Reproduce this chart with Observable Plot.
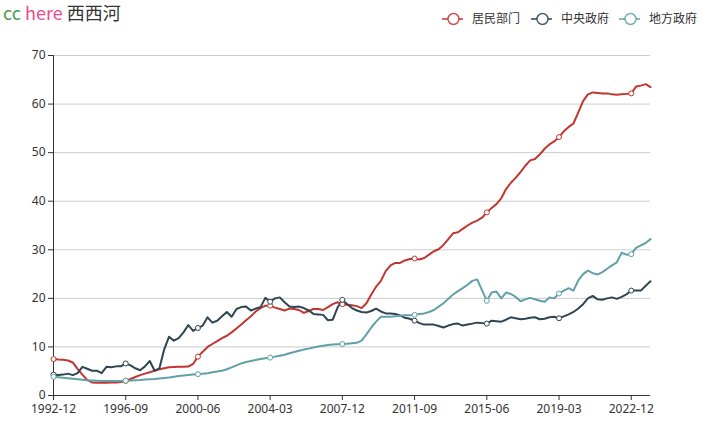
<!DOCTYPE html>
<html>
<head>
<meta charset="utf-8">
<script src="https://cdn.jsdelivr.net/npm/d3@7"></script>
<script src="https://cdn.jsdelivr.net/npm/@observablehq/plot@0.6"></script>
<style>
  html, body { margin: 0; padding: 0; background: #fff; }
  #wrap { width: 707px; height: 429px; position: relative; font-family: "Noto Sans", "Noto Sans CJK SC", sans-serif; }
  #header { height: 30px; position: relative; }
  #title { position: absolute; left: 3px; top: 0px; height: 26px; font-size: 18px; line-height: 24px; white-space: nowrap; font-family: "Noto Sans CJK SC", "Noto Sans", sans-serif; }
  #legend { position: absolute; left: 430px; top: 0; }
</style>
</head>
<body>
<div id="wrap">
  <div id="header">
    <div id="title"><span style="color:#4a9f4a">cc</span> <span style="color:#f0488f">here</span> <span style="color:#333">西西河</span></div>
    <svg id="legend" width="277" height="30"></svg>
  </div>
  <div id="chart"></div>
</div>
<script>
// Categories: quarterly from 1992-12 to 2023-12
const quarters = ["1992-12"];
for (let y = 1993; y <= 2023; y++) for (const m of ["03", "06", "09", "12"]) quarters.push(`${y}-${m}`);

const tickLabels = ["1992-12","1996-09","2000-06","2004-03","2007-12","2011-09","2015-06","2019-03","2022-12"];
const yTicks = [0,10,20,30,40,50,60,70];

const seriesNames = ["居民部门", "中央政府", "地方政府"];
const seriesColors = ["#c23531", "#2f4554", "#61a0a8"];

const household = [
  7.5,7.4,7.35,7.2,6.8,5.5,4.3,3.2,2.7,2.6,
  2.6,2.6,2.7,2.7,2.8,3.0,3.4,3.8,4.2,4.5,
  4.8,5.1,5.4,5.6,5.8,5.85,5.9,5.9,5.95,6.5,
  8.0,9.0,10.0,10.6,11.2,11.8,12.3,13.0,13.8,14.6,
  15.5,16.3,17.3,18.0,18.5,18.5,18.1,17.8,17.5,17.9,
  17.8,17.6,17.0,17.4,17.8,17.8,17.6,18.2,18.8,19.2,
  18.8,18.7,18.6,18.4,18.0,19.0,20.8,22.4,23.6,25.6,
  26.8,27.3,27.3,27.8,28.1,28.2,28.0,28.3,29.0,29.7,
  30.1,31.0,32.2,33.4,33.6,34.3,35.0,35.6,36.0,36.6,
  37.7,38.6,39.4,40.6,42.5,43.8,44.8,46.0,47.3,48.4,
  48.7,49.6,50.8,51.7,52.3,53.2,54.4,55.3,56.0,58.3,
  60.6,62.0,62.4,62.3,62.2,62.2,62.0,61.9,62.0,62.1,
  62.2,63.6,63.8,64.1,63.5
];

const central = [
  4.3,4.2,4.3,4.5,4.2,4.6,5.9,5.5,5.1,5.1,
  4.6,5.9,5.8,6.0,6.0,6.6,6.2,5.6,5.2,6.0,
  7.1,5.1,5.6,9.5,12.1,11.3,11.8,13.0,14.5,13.3,
  13.9,14.4,16.1,15.0,15.4,16.3,17.2,16.2,17.8,18.2,
  18.3,17.5,17.9,18.2,20.1,19.3,20.0,20.2,19.2,18.3,
  18.2,18.3,18.0,17.5,16.8,16.7,16.6,15.5,15.6,18.1,
  19.7,18.8,18.0,17.5,17.2,17.1,17.4,17.9,17.3,16.9,
  16.9,16.8,16.5,16.0,15.8,15.4,14.9,14.6,14.6,14.6,
  14.3,14.0,14.4,14.7,14.8,14.4,14.6,14.8,15.0,14.9,
  14.8,15.4,15.3,15.2,15.6,16.1,15.9,15.7,15.8,16.0,
  16.1,15.7,15.8,16.1,16.2,15.9,16.3,16.7,17.2,17.9,
  18.8,20.0,20.5,19.8,19.7,20.0,20.2,19.9,20.3,20.8,
  21.6,21.6,21.6,22.6,23.5
];

const local = [
  3.85,3.75,3.65,3.55,3.45,3.35,3.25,3.15,3.1,3.05,
  3.0,3.0,3.0,3.0,3.0,3.05,3.1,3.15,3.2,3.3,
  3.35,3.4,3.5,3.6,3.7,3.85,4.0,4.1,4.2,4.3,
  4.4,4.5,4.6,4.8,4.95,5.1,5.4,5.8,6.2,6.6,
  6.9,7.1,7.3,7.5,7.65,7.8,8.0,8.2,8.4,8.7,
  8.95,9.2,9.45,9.65,9.9,10.1,10.25,10.4,10.5,10.55,
  10.6,10.65,10.75,10.85,11.3,12.6,14.0,15.2,16.2,16.2,
  16.2,16.3,16.4,16.5,16.5,16.6,16.8,16.9,17.2,17.6,
  18.3,19.0,19.9,20.8,21.5,22.1,22.8,23.6,23.9,21.7,
  19.5,21.2,21.4,20.0,21.2,20.9,20.3,19.4,19.8,20.1,
  19.8,19.5,19.3,20.2,20.0,21.0,21.6,22.1,21.6,23.7,
  25.0,25.7,25.2,24.9,25.4,26.1,26.8,27.4,29.4,29.0,
  29.1,30.4,30.9,31.4,32.2
];

const seriesValues = [household, central, local];

const rows = [];
seriesValues.forEach((vals, si) => {
  vals.forEach((v, i) => rows.push({q: quarters[i], v, s: seriesNames[si]}));
});

const color = {domain: seriesNames, range: seriesColors};
const markerRows = rows.filter(d => tickLabels.includes(d.q));

const plot = Plot.plot({
  width: 707,
  height: 399,
  marginTop: 25,
  marginBottom: 34,
  marginLeft: 53,
  marginRight: 57,
  style: {fontFamily: "'Noto Sans', 'Noto Sans CJK SC', sans-serif", fontSize: "12px", color: "#333", background: "#fff"},
  x: {type: "point", domain: quarters, padding: 0},
  y: {domain: [0, 70]},
  color,
  marks: [
    Plot.gridY(yTicks.filter(t => t > 0), {stroke: "#ccc", strokeOpacity: 1}),
    Plot.axisY({ticks: yTicks, tickSize: 5, tickPadding: 3, label: null, fontSize: 12, color: "#333", stroke: "#333"}),
    Plot.axisX({ticks: tickLabels, tickSize: 5, tickPadding: 4, label: null, fontSize: 12, color: "#333", stroke: "#333"}),
    Plot.ruleX([quarters[0]], {y1: 0, y2: 70, stroke: "#333"}),
    Plot.ruleY([0], {stroke: "#333"}),
    ...seriesNames.map(name => Plot.line(rows.filter(d => d.s === name), {x: "q", y: "v", stroke: "s", strokeWidth: 2})),
    Plot.dot(markerRows, {x: "q", y: "v", stroke: "s", fill: "white", r: 2.5, strokeWidth: 1})
  ]
});
document.getElementById("chart").appendChild(plot);

// Legend (coordinates relative to the legend svg at left 430)
const leg = d3.select("#legend");
const legendItems = [
  {x: 12, tx: 42},
  {x: 101, tx: 131},
  {x: 189, tx: 219}
];
seriesNames.forEach((name, i) => {
  const g = leg.append("g");
  const p = legendItems[i];
  g.append("line").attr("x1", p.x).attr("x2", p.x + 21).attr("y1", 19).attr("y2", 19)
    .attr("stroke", seriesColors[i]).attr("stroke-width", 2).attr("stroke-opacity", 0.75);
  g.append("circle").attr("cx", p.x + 11.5).attr("cy", 19).attr("r", 5.5)
    .attr("fill", "white").attr("stroke", seriesColors[i]).attr("stroke-width", 1.5).attr("stroke-opacity", 0.85);
  g.append("text").attr("x", p.tx).attr("y", 19).attr("dy", "0.35em")
    .attr("font-size", 12).attr("fill", "#333")
    .attr("font-family", "'Noto Sans CJK SC', sans-serif").text(name);
});
</script>
</body>
</html>
